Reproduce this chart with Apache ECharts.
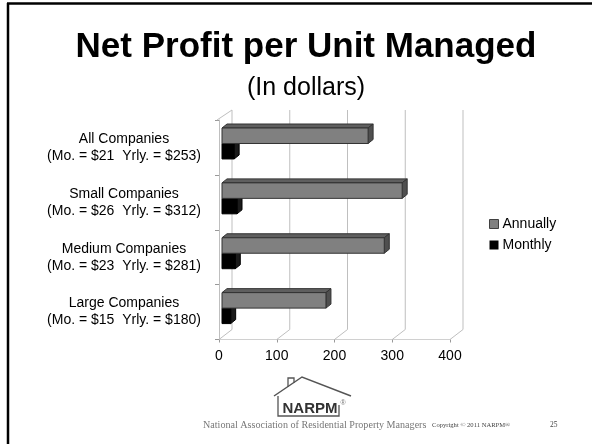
<!DOCTYPE html>
<html>
<head>
<meta charset="utf-8">
<script src="https://cdn.jsdelivr.net/npm/echarts@6/dist/echarts.min.js"></script>
<style>
  html, body { margin: 0; padding: 0; background: #fff; }
  #chart { width: 592px; height: 444px; }
</style>
</head>
<body>
<div id="chart"></div>
<script>
// categories, top to bottom
const categories = [
  'All Companies\n(Mo. = $21  Yrly. = $253)',
  'Small Companies\n(Mo. = $26  Yrly. = $312)',
  'Medium Companies\n(Mo. = $23  Yrly. = $281)',
  'Large Companies\n(Mo. = $15  Yrly. = $180)'
];
const annually = [253, 312, 281, 180];
const monthly = [21, 26, 23, 15];
const xTicks = [0, 100, 200, 300, 400];

const gridColor = '#bfbfbf';
const wallDepth = [13, -10];   // back wall offset of the 3D box
const barDepth = [5, -4];      // depth of each bar
const planeShift = [3, -2.5];  // bars sit a bit behind the front plane

// back wall + floor lines, one per x tick
function renderWall(params, api) {
  const cs = params.coordSys;
  const x = api.coord([api.value(0), 0])[0];
  const yb = cs.y + cs.height;
  const yt = cs.y;
  const st = { stroke: gridColor, lineWidth: 1 };
  const children = [
    { type: 'line', shape: { x1: x, y1: yb, x2: x + wallDepth[0], y2: yb + wallDepth[1] }, style: st },
    { type: 'line', shape: { x1: x + wallDepth[0], y1: yb + wallDepth[1], x2: x + wallDepth[0], y2: yt + wallDepth[1] }, style: st }
  ];
  if (params.dataIndex === 0) {
    children.push({ type: 'line', shape: { x1: x - 2, y1: yt, x2: x + wallDepth[0], y2: yt + wallDepth[1] }, style: st });
  }
  return { type: 'group', children };
}

function makeBarRenderer(slot, front, topC, sideC, stroke) {
  return function (params, api) {
    const v = api.value(0), ci = api.value(1);
    const start = api.coord([0, ci]);
    const end = api.coord([v, ci]);
    const band = api.size([0, 1])[1];
    const h = band * 0.282;
    const x0 = start[0] + planeShift[0];
    const x1 = end[0] + planeShift[0];
    const top = start[1] - band * 0.354 + slot * h;
    const dx = barDepth[0], dy = barDepth[1];
    const ls = { stroke: stroke, lineWidth: 1 };
    return {
      type: 'group',
      children: [
        { type: 'polygon', shape: { points: [[x0, top], [x0 + dx, top + dy], [x1 + dx, top + dy], [x1, top]] },
          style: Object.assign({ fill: topC }, ls) },
        { type: 'polygon', shape: { points: [[x1, top], [x1 + dx, top + dy], [x1 + dx, top + h + dy], [x1, top + h]] },
          style: Object.assign({ fill: sideC }, ls) },
        { type: 'rect', shape: { x: x0, y: top, width: x1 - x0, height: h },
          style: Object.assign({ fill: front }, ls) }
      ]
    };
  };
}

const chart = echarts.init(document.getElementById('chart'), null, { renderer: 'canvas' });

chart.setOption({
  backgroundColor: '#fff',
  animation: false,
  textStyle: { fontFamily: 'Liberation Sans, Arial, sans-serif', color: '#000' },
  title: {
    text: 'Net Profit per Unit Managed',
    subtext: '(In dollars)',
    left: 301,
    textAlign: 'center',
    top: 25,
    itemGap: 11,
    textStyle: { fontSize: 35, fontWeight: 'bold', color: '#000', fontFamily: 'Liberation Sans, Arial, sans-serif' },
    subtextStyle: { fontSize: 25, color: '#000', fontFamily: 'Liberation Sans, Arial, sans-serif' }
  },
  legend: {
    orient: 'vertical',
    left: 489,
    top: 217,
    padding: 0,
    itemWidth: 9,
    itemHeight: 9,
    itemGap: 7,
    icon: 'rect',
    textStyle: { fontSize: 14, color: '#000', padding: [0, 0, 0, -1] },
    data: [
      { name: 'Annually', itemStyle: { color: '#808080', borderColor: '#404040', borderWidth: 1 } },
      { name: 'Monthly', itemStyle: { color: '#000' } }
    ]
  },
  grid: { left: 219, right: 142, top: 120, bottom: 104.5 },
  xAxis: {
    type: 'value',
    min: 0,
    max: 400,
    interval: 100,
    axisLine: { show: true, lineStyle: { color: '#d0d0d0' } },
    axisTick: { show: true, length: 3, lineStyle: { color: '#999' } },
    axisLabel: { fontSize: 14, color: '#000', margin: 10 },
    splitLine: { show: false }
  },
  yAxis: {
    type: 'category',
    inverse: true,
    data: categories,
    axisLine: { show: true, lineStyle: { color: '#bfbfbf' } },
    axisTick: { show: true, length: 4, lineStyle: { color: '#999' } },
    axisLabel: { fontSize: 14, lineHeight: 17, color: '#000', align: 'center', margin: 95 }
  },
  series: [
    {
      name: 'wall',
      type: 'custom',
      silent: true,
      z: 1,
      renderItem: renderWall,
      encode: { x: 0, y: 1 },
      data: xTicks.map(v => [v, 0])
    },
    {
      name: 'Monthly',
      type: 'custom',
      z: 2,
      itemStyle: { color: '#000' },
      renderItem: makeBarRenderer(1, '#000', '#111', '#1a1a1a', '#000'),
      encode: { x: 0, y: 1 },
      data: monthly.map((v, i) => [v, i])
    },
    {
      name: 'Annually',
      type: 'custom',
      z: 3,
      itemStyle: { color: '#808080' },
      renderItem: makeBarRenderer(0, '#808080', '#5f5f5f', '#4f4f4f', '#333'),
      encode: { x: 0, y: 1 },
      data: annually.map((v, i) => [v, i])
    }
  ],
  graphic: [
    // slide frame
    { type: 'line', shape: { x1: 7, y1: 3.5, x2: 592, y2: 3.5 }, style: { stroke: '#000', lineWidth: 2.5 } },
    { type: 'line', shape: { x1: 8, y1: 3, x2: 8, y2: 444 }, style: { stroke: '#000', lineWidth: 2.5 } },
    // NARPM logo
    { type: 'polyline', shape: { points: [[274, 396], [302, 377], [351, 396]] }, style: { stroke: '#555', lineWidth: 1.5, fill: null } },
    { type: 'polyline', shape: { points: [[288, 387], [288, 378], [294, 378], [294, 383]] }, style: { stroke: '#555', lineWidth: 1.3, fill: null } },
    { type: 'polyline', shape: { points: [[278, 396], [278, 416], [339, 416], [339, 405]] }, style: { stroke: '#555', lineWidth: 1.3, fill: null } },
    { type: 'text', style: { text: 'NARPM', x: 310, y: 409, align: 'center', verticalAlign: 'middle',
        font: 'bold 15px "Liberation Sans Narrow", "Liberation Sans", sans-serif', fill: '#333' } },
    { type: 'text', style: { text: '®', x: 343, y: 403, align: 'center', verticalAlign: 'middle', font: '7px sans-serif', fill: '#777' } },
    { type: 'text', style: { text: 'National Association of Residential Property Managers', x: 203, y: 425,
        verticalAlign: 'middle', font: '10.1px "Liberation Serif", serif', fill: '#777' } },
    { type: 'text', style: { text: 'Copyright © 2011 NARPM®', x: 432, y: 425,
        verticalAlign: 'middle', font: '6.6px "Liberation Serif", serif', fill: '#444' } },
    { type: 'text', style: { text: '25', x: 550, y: 425,
        verticalAlign: 'middle', font: '7.5px "Liberation Serif", serif', fill: '#444' } }
  ]
});
</script>
</body>
</html>
